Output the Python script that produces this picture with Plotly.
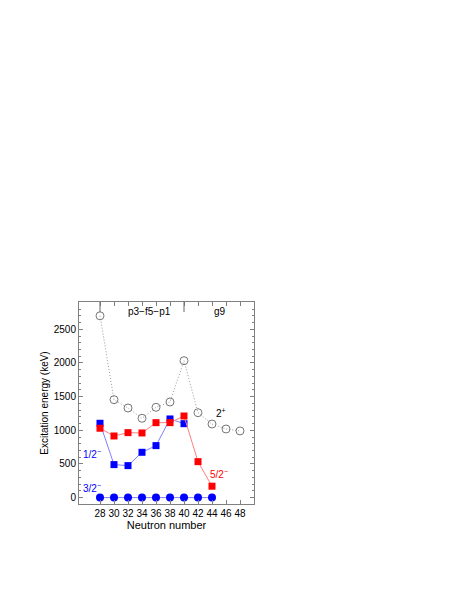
import plotly.graph_objects as go

neutrons_2p = [28, 30, 32, 34, 36, 38, 40, 42, 44, 46, 48]
e_2p = [2700, 1454, 1331, 1178, 1341, 1420, 2033, 1261, 1093, 1019, 990]

neutrons_half = [28, 30, 32, 34, 36, 38, 40]
e_half = [1104, 490, 475, 673, 772, 1168, 1098]

neutrons_52 = [28, 30, 32, 34, 36, 38, 40, 42, 44]
e_52 = [1030, 915, 965, 960, 1113, 1113, 1212, 534, 169]

neutrons_32 = [28, 30, 32, 34, 36, 38, 40, 42, 44]
e_32 = [0, 0, 0, 0, 0, 0, 0, 0, 0]

x_ticks = [28, 30, 32, 34, 36, 38, 40, 42, 44, 46, 48]
y_ticks = [0, 500, 1000, 1500, 2000, 2500]

font = "Liberation Sans, Arial, sans-serif"

fig = go.Figure()
fig.add_trace(go.Scatter(x=neutrons_2p, y=e_2p, mode="lines+markers",
                         line=dict(color="#999999", width=1, dash="1px,2px"),
                         marker=dict(symbol="circle-open", size=8, color="#777777", line=dict(width=1))))
fig.add_trace(go.Scatter(x=neutrons_half, y=e_half, mode="lines+markers",
                         line=dict(color="#8080ff", width=1),
                         marker=dict(symbol="square", size=7, color="#0000ff")))
fig.add_trace(go.Scatter(x=neutrons_52, y=e_52, mode="lines+markers",
                         line=dict(color="#ff8080", width=1),
                         marker=dict(symbol="square", size=7, color="#ff0000")))
fig.add_trace(go.Scatter(x=neutrons_32, y=e_32, mode="lines+markers",
                         line=dict(color="#8080ff", width=1),
                         marker=dict(symbol="circle", size=8, color="#0000ff")))

annots = [
    dict(x=26.9, y=648, text="1/2<sup>−</sup>", color="#0000ff"),
    dict(x=26.9, y=148, text="3/2<sup>−</sup>", color="#0000ff"),
    dict(x=45.0, y=352, text="5/2<sup>−</sup>", color="#ff0000"),
    dict(x=45.3, y=1252, text="2<sup>+</sup>", color="#000000"),
    dict(x=35.1, y=2760, text="p3−f5−p1", color="#000000"),
    dict(x=45.1, y=2760, text="g9", color="#000000"),
]
for a in annots:
    fig.add_annotation(x=a["x"], y=a["y"], text=a["text"], showarrow=False,
                       font=dict(family=font, size=10, color=a["color"]))

for xv in [28, 40]:
    fig.add_shape(type="line", x0=xv, x1=xv, xref="x", yref="paper", y0=1, y1=0.95,
                  line=dict(color="#666666", width=1))

axis_common = dict(showgrid=False, zeroline=False, showline=True, linecolor="#808080",
                   linewidth=1, mirror="allticks", ticks="inside", ticklen=4,
                   tickcolor="#808080", tickfont=dict(family=font, size=10, color="#000000"))

fig.update_xaxes(range=[25, 50], tickvals=x_ticks,
                 title=dict(text="Neutron number", font=dict(family=font, size=11, color="#000000"), standoff=2),
                 **axis_common)
fig.update_yaxes(range=[-95, 2905], tickvals=y_ticks,
                 minor=dict(dtick=100, ticks="inside", ticklen=2, tickcolor="#808080"),
                 title=dict(text="Excitation energy (keV)", font=dict(family=font, size=10, color="#000000"), standoff=3),
                 **axis_common)

fig.update_layout(width=468, height=605, showlegend=False,
                  plot_bgcolor="white", paper_bgcolor="white",
                  margin=dict(l=71, r=222, t=294, b=109, autoexpand=False))

fig.write_html("out.html")
